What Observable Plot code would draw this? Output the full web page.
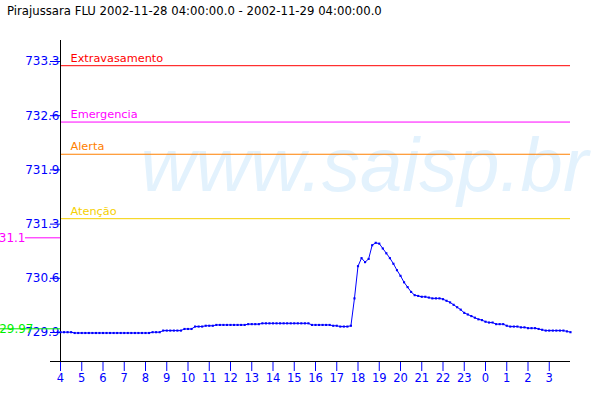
<!DOCTYPE html>
<html><head><meta charset="utf-8">
<script src="https://cdn.jsdelivr.net/npm/d3@7"></script>
<script src="https://cdn.jsdelivr.net/npm/@observablehq/plot@0.6"></script>
<style>
body{margin:0;background:#fff;}
#wrap{position:relative;width:600px;height:400px;overflow:hidden;}
#title{position:absolute;left:7px;top:4px;font-family:"DejaVu Sans";font-size:11.7px;color:#000;white-space:nowrap;z-index:2}
</style></head><body>
<div id="wrap"><div id="title"></div></div>
<script>
const title = "Pirajussara FLU 2002-11-28 04:00:00.0 - 2002-11-29 04:00:00.0";
const startTime = "2002-11-28T04:00:00Z";
const endTime = "2002-11-29T04:00:00Z";
// water level every 10 minutes from 04:00
const levels = [
  729.99,729.99,729.99,729.99,
  729.98,729.98,729.98,729.98,729.98,729.98,729.98,729.98,729.98,729.98,729.98,
  729.98,729.98,729.98,729.98,729.98,729.98,729.98,729.98,729.98,729.98,729.98,
  729.99,729.99,729.99,
  730.01,730.01,730.01,730.01,730.01,730.01,
  730.03,730.03,730.03,
  730.06,730.06,730.06,
  730.07,730.07,730.07,
  730.08,730.08,730.08,730.08,730.08,730.08,730.08,730.08,730.08,
  730.09,730.09,730.09,730.09,
  730.10,730.10,730.10,730.10,730.10,730.10,730.10,730.10,730.10,730.10,730.10,730.10,730.10,730.10,
  730.08,730.08,730.08,730.08,730.08,730.08,
  730.07,730.07,
  730.06,730.06,730.06,
  730.07,730.41,730.81,730.91,730.86,730.90,731.07,731.10,731.09,731.03,
  730.97,730.91,730.84,730.76,730.69,730.61,730.55,730.49,730.45,730.44,
  730.43,730.43,730.42,730.41,730.41,730.41,730.40,730.38,730.36,730.33,
  730.30,730.27,730.23,730.21,730.19,730.17,730.15,730.14,730.12,730.11,
  730.11,730.09,730.09,730.09,730.07,730.06,730.06,730.06,730.05,730.05,
  730.04,730.04,730.04,730.03,730.02,730.01,730.01,730.01,730.01,730.01,
  730.01,730.00,729.99
];
const thresholdNames = ["Extravasamento", "Emergencia", "Alerta", "Atenção"];
const thresholdValues = [733.3, 732.6, 732.2, 731.4];
const thresholdColors = ["#ff0000", "#ff00ff", "#ff8000", "#f5d000"];
const yTicks = [729.924, 730.597, 731.27, 731.944, 732.617, 733.29];
const yDomain = [729.626, 733.613];
const hourLabels = [4,5,6,7,8,9,10,11,12,13,14,15,16,17,18,19,20,21,22,23,0,1,2,3];
const maxValue = [731.1];
const minValue = [729.97];
const watermark = "www.saisp.br";

document.getElementById("title").textContent = title;

const t0 = new Date(startTime);
const data = levels.map((v, i) => ({t: new Date(+t0 + i * 600000), v}));
const hourTicks = hourLabels.map((h, i) => new Date(+t0 + i * 3600000));
const labelByTime = new Map(hourTicks.map((t, i) => [+t, hourLabels[i]]));
const thresholds = thresholdNames.map((name, i) => ({name, value: thresholdValues[i], color: thresholdColors[i]}));

const blue = "#0000ff";
const plot = Plot.plot({
  width: 600, height: 400,
  marginLeft: 60, marginRight: 30, marginTop: 40, marginBottom: 39,
  style: {fontFamily: "DejaVu Sans", fontSize: "12px", background: "white"},
  x: {type: "utc", domain: [new Date(startTime), new Date(endTime)], label: null},
  y: {domain: yDomain, label: null},
  color: {type: "identity"},
  marks: [
    Plot.text([watermark], {frameAnchor: "top-left", dx: 80, dy: 150, textAnchor: "start", lineAnchor: "bottom",
      fontSize: 76, fontStyle: "italic", fontFamily: "Liberation Sans", fill: "#e3f2fd"}),
    Plot.ruleY(thresholds, {y: "value", stroke: "color"}),
    Plot.text(thresholds, {y: "value", text: "name", fill: "color", frameAnchor: "left", dx: 10, dy: -4,
      lineAnchor: "bottom", textAnchor: "start", fontSize: 11.3}),
    Plot.axisY(yTicks, {anchor: "left", tickSize: 10, tickPadding: -9, stroke: blue, fill: blue,
      tickFormat: d => d.toFixed(1), dy: -5, fontSize: 12, label: null}),
    Plot.axisY(maxValue, {anchor: "left", tickSize: 35, tickPadding: 0, stroke: "#ff00ff", fill: "#ff00ff",
      tickFormat: d => d.toFixed(1), dy: -5, fontSize: 12, label: null}),
    Plot.axisY(minValue, {anchor: "left", tickSize: 60, tickPadding: -33, stroke: "#00ee00", fill: "#00ee00",
      tickFormat: d => d.toFixed(2), dy: -5, fontSize: 12, label: null}),
    Plot.axisY([yDomain[0]], {anchor: "left", tickSize: 10, stroke: "black", tickFormat: () => "", label: null}),
    Plot.axisX(hourTicks, {anchor: "bottom", tickSize: 10, tickPadding: 2, stroke: blue, fill: blue,
      tickFormat: d => String(labelByTime.get(+d)), fontSize: 11.5, label: null}),
    Plot.ruleX([t0], {stroke: "black"}),
    Plot.ruleY([yDomain[0]], {stroke: "black"}),
    Plot.line(data, {x: "t", y: "v", stroke: blue, strokeWidth: 1}),
    Plot.dot(data, {x: "t", y: "v", symbol: "square", r: 1.2, fill: blue, stroke: null})
  ]
});
document.getElementById("wrap").appendChild(plot);
</script>
</body></html>
